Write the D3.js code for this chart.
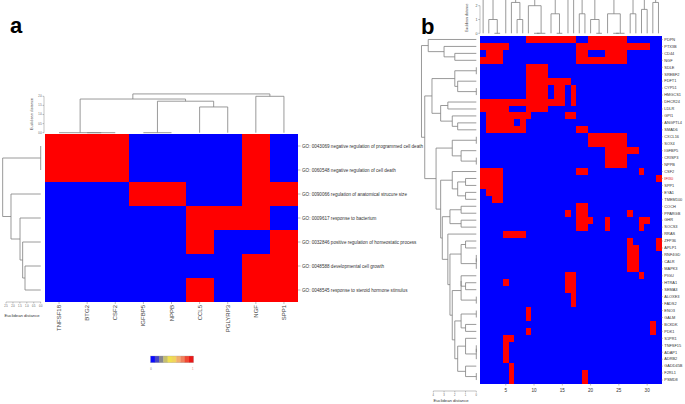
<!DOCTYPE html>
<html><head><meta charset="utf-8">
<script src="https://cdn.jsdelivr.net/npm/d3@7"></script>
<style>body{margin:0;background:#fff}svg{display:block}text{font-family:"Liberation Sans",Arial,sans-serif}</style>
</head><body><svg id="c" width="685" height="404"></svg>
<script>
// ---------- Panel a data ----------
const aGenes = ["TNFSF18","BTG2","CSF2","IGFBP5","NPPB","CCL5","PGLYRP3","NGF","SPP1"];
const aTerms = [
  "GO: 0043069 negative regulation of programmed cell death",
  "GO: 0060548 negative regulation of cell death",
  "GO: 0090066 regulation of anatomical strucure size",
  "GO: 0009617 response to bacterium",
  "GO: 0032846 positive regulation of homeostatic process",
  "GO: 0048588 developmental cell growth",
  "GO: 0048545 response to steroid hormone stimulus"
];
const aMatrix = [
  [1,1,1,0,0,0,0,1,0],
  [1,1,1,0,0,0,0,1,0],
  [0,0,0,1,1,0,0,1,1],
  [0,0,0,0,0,1,1,1,0],
  [0,0,0,0,0,1,0,0,1],
  [0,0,0,0,0,0,0,1,1],
  [0,0,0,0,0,1,0,1,1]
];
// dendrograms: [height, child, child...] ; leaf = index
const aColTree = [2.13,[1.85,[0,0,[0,1,2]],[1.73,[0,3,4],[1.414,5,6]]],[2.0,7,8]];
const aRowTree = [2.74,[0,0,1],[2.14,2,[1.49,3,[1.30,4,[1.13,5,6]]]]];
const aColTicks = [0,0.5,1,1.5,2];
const aRowTicks = [0,0.5,1,1.5,2,2.5];
const keyColors = ["#0a0aff","#4646c6","#85858f","#c6bf6c","#efe050","#f1d45c","#f1ae6c","#f0805c","#f04834","#ea1818"];

// ---------- Panel b data ----------
const bGenes = ["PDPN","PTX3B","CD44","NGF","SDLE","SREBF2","FDFT1","CYP51","HMGCS1","DHCR24",
  "LDLR","GPI1","ANGPTL4","SMAD6","CXCL16","SOX4","IGFBP5","CRISP3","NPPB","CSF2",
  "IFI30","SPP1","EYA1","TMEM100","COCH","PPARGB","GHR","SOCS3","RRAS","ZFP36",
  "APLP1","RNF4GD","CALR","MAPK3","PIGU","HTRA1","SEMA3","ALOXE3","FADS2","ENO3",
  "GALM","BCKDK","PDK1","S1PR1","TNFSF15","ADAP1","ADRB2","GADD45B","F2RL1","PSMD8"];
const bHighlight = ["IFI30"];
const bMatrix = [
  "00000000111111111001111111000000",
  "11111000000000000111111111111100",
  "01110000000000000110001111000000",
  "11110000000000000111111111000000",
  "00000000111100000000000000000000",
  "00000000111100000000000000000000",
  "00000000111111110000000000000000",
  "00000000111101101000000000000000",
  "00000000111101101000000000000000",
  "11111111111111101000000000000000",
  "11111000111100000000000000000000",
  "01111111100000011000000000000000",
  "01111101000000000000000000000000",
  "01111111000000000110000000000000",
  "00000000000000000001111111000000",
  "00000000000000000001111111000000",
  "00000000000000000000001111110000",
  "00000000000000000000001111000000",
  "00000000000000000000001111000000",
  "11110000000000000110000000001000",
  "11110000000000000000000000000001",
  "11110000000000000000000000000000",
  "01110000000000000000000000000000",
  "00110000000000000000000000000000",
  "00000000000000000110000000000000",
  "00000000000000010110000000100000",
  "00000000000000000111001000001100",
  "00000000000000000110001000001000",
  "00001111000000000000000000000000",
  "00000000000000000000000000100001",
  "00000000000000000000000000110001",
  "00000000000000000000000000110000",
  "00000000000000000000000000110000",
  "00000000000000000000000000110000",
  "00000000000000011000000000001000",
  "00001000000000011000000000000000",
  "00000000000000011000000000000000",
  "00000000000000001000000000000000",
  "00000000000000001000000000000000",
  "00000000100000000000000000000000",
  "00000000100000000000000000000000",
  "00000000000000000000000000000010",
  "00000000100000000000000000000010",
  "00001100000000000000000000000000",
  "00001000000000000000000000000000",
  "00001000000000000000000000000000",
  "00001000000000000000000000000000",
  "00000100000000000000000000000000",
  "00000100000000000010000000000000",
  "00000100000000000010000000000000"
];
const bXTicks = [5,10,15,20,25,30];
const bColTicks = [0,1,2];
const bRowTicks = [0,1,2,3,4];

// ---------- helpers ----------
const BLUE="#0000ff", RED="#ff0000", GREY="#808080";
const svg = d3.select("#c");

function build(n){
  if (typeof n === "number") return {pos:n,h:0,leaf:true};
  const ch = n.slice(1).map(build);
  return {h:n[0], ch, pos:(ch[0].pos+ch[ch.length-1].pos)/2};
}
function drawTree(g, tree, pScale, hScale, vertical){
  const root = build(tree);
  const L = (x1,y1,x2,y2)=> vertical
     ? g.append("line").attr("x1",x1).attr("y1",y1).attr("x2",x2).attr("y2",y2)
     : g.append("line").attr("x1",y1).attr("y1",x1).attr("x2",y2).attr("y2",x2);
  (function walk(n){
    if (n.leaf) return;
    const c0=n.ch[0], c1=n.ch[n.ch.length-1];
    L(pScale(c0.pos), hScale(n.h), pScale(c1.pos), hScale(n.h));
    n.ch.forEach(c=>{ L(pScale(c.pos), hScale(n.h), pScale(c.pos), hScale(c.h)); walk(c); });
  })(root);
  g.selectAll("line").attr("stroke",GREY).attr("stroke-width",0.8);
}
// adjacency-constrained complete-linkage clustering of the given ordered vectors
function clusterOrdered(vecs){
  const D = vecs.map(a=>vecs.map(b=>Math.sqrt(d3.sum(a,(x,k)=>(x-b[k])**2))));
  let cl = vecs.map((v,i)=>({node:i, mem:[i]}));
  while (cl.length>1){
    let best=Infinity, bi=0;
    for (let i=0;i<cl.length-1;i++){
      let m=0;
      for (const a of cl[i].mem) for (const b of cl[i+1].mem) m=Math.max(m,D[a][b]);
      if (m<best-1e-9){best=m;bi=i;}
    }
    const merged={node:[best, cl[bi].node, cl[bi+1].node], mem:cl[bi].mem.concat(cl[bi+1].mem)};
    cl.splice(bi,2,merged);
  }
  return cl[0].node;
}

// ================= PANEL A =================
const ga = svg.append("g");
ga.append("text").attr("x",10).attr("y",33).attr("font-size",22).attr("font-weight","bold").text("a");
const ax = d3.scaleBand().domain(d3.range(aGenes.length)).range([45,298]);
const ay = d3.scaleBand().domain(d3.range(aTerms.length)).range([134,302]);
aMatrix.forEach((row,i)=>row.forEach((v,j)=>{
  ga.append("rect").attr("x",ax(j)).attr("y",ay(i)).attr("width",ax.bandwidth()+0.4).attr("height",ay.bandwidth()+0.4)
    .attr("fill",v?RED:BLUE).attr("shape-rendering","crispEdges");
}));
aTerms.forEach((t,i)=>{
  const y=ay(i)+ay.bandwidth()/2;
  ga.append("line").attr("x1",298).attr("x2",300.5).attr("y1",y).attr("y2",y).attr("stroke","#777").attr("stroke-width",0.5);
  ga.append("text").attr("x",302).attr("y",y+1.6).attr("font-size",4.6).attr("fill","#333").text(t);
});
aGenes.forEach((t,j)=>{
  const x=ax(j)+ax.bandwidth()/2;
  ga.append("line").attr("x1",x).attr("x2",x).attr("y1",302).attr("y2",304).attr("stroke","#777").attr("stroke-width",0.5);
  ga.append("text").attr("transform",`translate(${x+2},305) rotate(-90)`).attr("text-anchor","end")
    .attr("font-size",6).attr("fill","#444").text(t);
});
const apx = d3.scaleLinear().domain([0,aGenes.length-1]).range([ax(0)+ax.bandwidth()/2, ax(aGenes.length-1)+ax.bandwidth()/2]);
const ahy = d3.scaleLinear().domain([0,2]).range([132.7,96.3]);
drawTree(ga.append("g"), aColTree, apx, ahy, true);
const aAxT = ga.append("g").attr("transform","translate(44,0)");
aAxT.append("line").attr("x1",0).attr("x2",0).attr("y1",ahy(0)).attr("y2",ahy(2)).attr("stroke","#666").attr("stroke-width",0.4);
aColTicks.forEach(v=>{
  aAxT.append("line").attr("x1",-1.5).attr("x2",0).attr("y1",ahy(v)).attr("y2",ahy(v)).attr("stroke","#666").attr("stroke-width",0.4);
  aAxT.append("text").attr("x",-2.2).attr("y",ahy(v)+0.9).attr("text-anchor","end").attr("font-size",2.6).attr("fill","#555").text(v.toFixed(1));
});
ga.append("text").attr("transform",`translate(33,114) rotate(-90)`).attr("text-anchor","middle").attr("font-size",3.8).attr("fill","#444").text("Euclidean distance");
const apy = d3.scaleLinear().domain([0,aTerms.length-1]).range([ay(0)+ay.bandwidth()/2, ay(aTerms.length-1)+ay.bandwidth()/2]);
const ahx = d3.scaleLinear().domain([0,2.5]).range([40.7,6]);
drawTree(ga.append("g"), aRowTree, apy, ahx, false);
const aAxL = ga.append("g");
aAxL.append("line").attr("x1",ahx(0)).attr("x2",ahx(2.5)).attr("y1",302).attr("y2",302).attr("stroke","#666").attr("stroke-width",0.4);
aRowTicks.forEach(v=>{
  aAxL.append("line").attr("x1",ahx(v)).attr("x2",ahx(v)).attr("y1",302).attr("y2",303.5).attr("stroke","#666").attr("stroke-width",0.4);
  aAxL.append("text").attr("x",ahx(v)).attr("y",306.5).attr("text-anchor","middle").attr("font-size",2.6).attr("fill","#555").text(v.toFixed(1));
});
ga.append("text").attr("x",22).attr("y",317).attr("text-anchor","middle").attr("font-size",4.2).attr("fill","#333").text("Euclidean distance");
const kx = d3.scaleBand().domain(d3.range(keyColors.length)).range([150.5,193.3]);
keyColors.forEach((c,i)=>ga.append("rect").attr("x",kx(i)).attr("y",356).attr("width",kx.bandwidth()+0.3).attr("height",6.7).attr("fill",c));
ga.append("rect").attr("x",150.5).attr("y",356).attr("width",42.8).attr("height",6.7).attr("fill","none").attr("stroke","#999").attr("stroke-width",0.3);
ga.append("text").attr("x",151).attr("y",369.5).attr("text-anchor","middle").attr("font-size",2.6).attr("fill","#777").text("0");
ga.append("text").attr("x",192.8).attr("y",369.5).attr("text-anchor","middle").attr("font-size",2.6).attr("fill","#e66").text("1");

// ================= PANEL B =================
const gb = svg.append("g");
gb.append("text").attr("x",421).attr("y",34).attr("font-size",22).attr("font-weight","bold").text("b");
const nCol = bMatrix[0].length;
const bVec = bMatrix.map(s=>s.split("").map(Number));
const bx = d3.scaleBand().domain(d3.range(nCol)).range([480.3,661.3]);
const by = d3.scaleBand().domain(d3.range(bGenes.length)).range([36,383.5]);
bVec.forEach((row,i)=>row.forEach((v,j)=>{
  gb.append("rect").attr("x",bx(j)).attr("y",by(i)).attr("width",bx.bandwidth()+0.4).attr("height",by.bandwidth()+0.4)
    .attr("fill",v?RED:BLUE).attr("shape-rendering","crispEdges");
}));
bGenes.forEach((t,i)=>{
  const y=by(i)+by.bandwidth()/2;
  gb.append("line").attr("x1",661.3).attr("x2",663).attr("y1",y).attr("y2",y).attr("stroke","#777").attr("stroke-width",0.4);
  gb.append("text").attr("x",664.3).attr("y",y+1.3).attr("font-size",3.9)
    .attr("fill",bHighlight.includes(t)?"#e02020":"#333").text(t);
});
bXTicks.forEach(v=>{
  const x=bx(v-1)+bx.bandwidth()/2;
  gb.append("line").attr("x1",x).attr("x2",x).attr("y1",383.5).attr("y2",385.5).attr("stroke","#777").attr("stroke-width",0.5);
  gb.append("text").attr("x",x).attr("y",392).attr("text-anchor","middle").attr("font-size",4.6).attr("fill","#333").text(v);
});
const colVecs = d3.range(nCol).map(j=>bVec.map(r=>r[j]));
const bColTree = clusterOrdered(colVecs);
const bpx = d3.scaleLinear().domain([0,nCol-1]).range([bx(0)+bx.bandwidth()/2, bx(nCol-1)+bx.bandwidth()/2]);
const bhy = d3.scaleLinear().domain([0,2]).range([33.3,5.7]);
drawTree(gb.append("g"), bColTree, bpx, bhy, true);
const bAxT = gb.append("g").attr("transform","translate(480,0)");
bAxT.append("line").attr("x1",0).attr("x2",0).attr("y1",bhy(0)).attr("y2",bhy(2)).attr("stroke","#666").attr("stroke-width",0.4);
bColTicks.forEach(v=>{
  bAxT.append("line").attr("x1",-1.8).attr("x2",0).attr("y1",bhy(v)).attr("y2",bhy(v)).attr("stroke","#666").attr("stroke-width",0.4);
  bAxT.append("text").attr("x",-2.5).attr("y",bhy(v)+1.2).attr("text-anchor","end").attr("font-size",3.6).attr("fill","#555").text(v);
});
gb.append("text").attr("transform",`translate(468,32) rotate(-90)`).attr("font-size",3.4).attr("fill","#444").text("Euclidean distance");
const bRowTree = clusterOrdered(bVec);
const bpy = d3.scaleLinear().domain([0,bGenes.length-1]).range([by(0)+by.bandwidth()/2, by(bGenes.length-1)+by.bandwidth()/2]);
const bhx = d3.scaleLinear().domain([0,4]).range([476.3,433.3]);
drawTree(gb.append("g"), bRowTree, bpy, bhx, false);
const bAxL = gb.append("g");
bAxL.append("line").attr("x1",bhx(0)).attr("x2",bhx(4)).attr("y1",391).attr("y2",391).attr("stroke","#666").attr("stroke-width",0.4);
bRowTicks.forEach(v=>{
  bAxL.append("line").attr("x1",bhx(v)).attr("x2",bhx(v)).attr("y1",391).attr("y2",392.5).attr("stroke","#666").attr("stroke-width",0.4);
  bAxL.append("text").attr("x",bhx(v)).attr("y",395.5).attr("text-anchor","middle").attr("font-size",2.6).attr("fill","#555").text(v);
});
gb.append("text").attr("x",451).attr("y",401.5).attr("text-anchor","middle").attr("font-size",4.2).attr("fill","#333").text("Euclidean distance");
</script></body></html>
